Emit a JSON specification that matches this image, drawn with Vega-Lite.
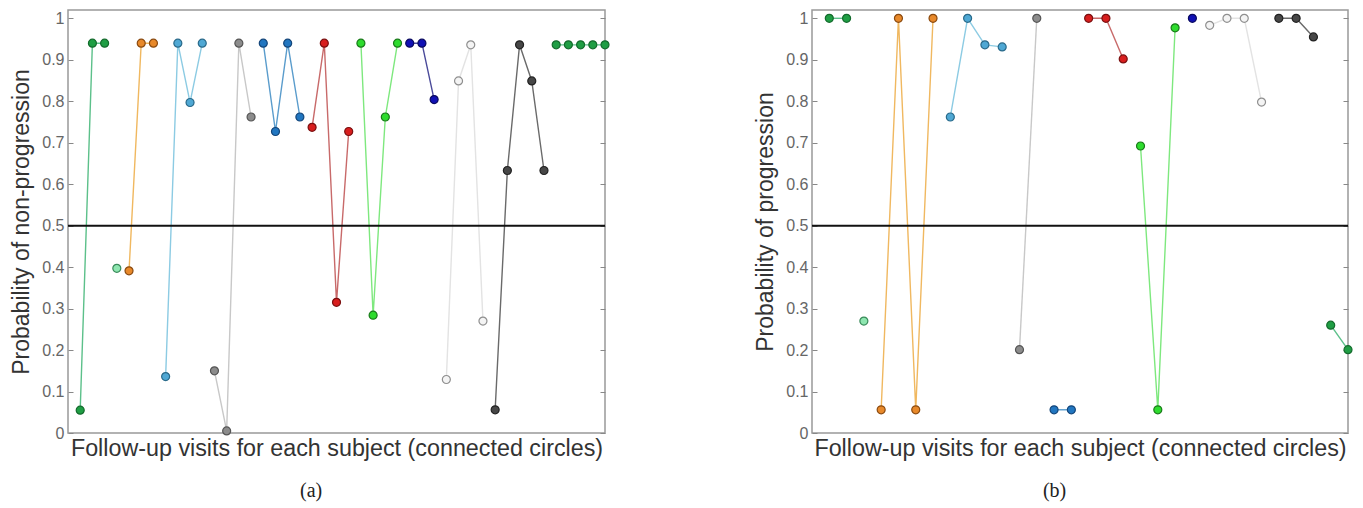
{
  "$schema": "https://vega.github.io/schema/vega-lite/v6.json",
  "padding": {"left": 10, "top": 9, "right": 5, "bottom": 0},
  "background": "white",
  "datasets": {
    "a": [
      {"subject": "S01", "visit": 1, "p": 0.055}, {"subject": "S01", "visit": 2, "p": 0.94}, {"subject": "S01", "visit": 3, "p": 0.94},
      {"subject": "S02", "visit": 4, "p": 0.397},
      {"subject": "S03", "visit": 5, "p": 0.391}, {"subject": "S03", "visit": 6, "p": 0.94}, {"subject": "S03", "visit": 7, "p": 0.94},
      {"subject": "S04", "visit": 8, "p": 0.136}, {"subject": "S04", "visit": 9, "p": 0.94}, {"subject": "S04", "visit": 10, "p": 0.797}, {"subject": "S04", "visit": 11, "p": 0.94},
      {"subject": "S05", "visit": 12, "p": 0.15}, {"subject": "S05", "visit": 13, "p": 0.005}, {"subject": "S05", "visit": 14, "p": 0.94}, {"subject": "S05", "visit": 15, "p": 0.762},
      {"subject": "S06", "visit": 16, "p": 0.94}, {"subject": "S06", "visit": 17, "p": 0.727}, {"subject": "S06", "visit": 18, "p": 0.94}, {"subject": "S06", "visit": 19, "p": 0.762},
      {"subject": "S07", "visit": 20, "p": 0.737}, {"subject": "S07", "visit": 21, "p": 0.94}, {"subject": "S07", "visit": 22, "p": 0.315}, {"subject": "S07", "visit": 23, "p": 0.727},
      {"subject": "S08", "visit": 24, "p": 0.94}, {"subject": "S08", "visit": 25, "p": 0.284}, {"subject": "S08", "visit": 26, "p": 0.762}, {"subject": "S08", "visit": 27, "p": 0.94},
      {"subject": "S09", "visit": 28, "p": 0.94}, {"subject": "S09", "visit": 29, "p": 0.94}, {"subject": "S09", "visit": 30, "p": 0.804},
      {"subject": "S10", "visit": 31, "p": 0.129}, {"subject": "S10", "visit": 32, "p": 0.849}, {"subject": "S10", "visit": 33, "p": 0.936}, {"subject": "S10", "visit": 34, "p": 0.27},
      {"subject": "S11", "visit": 35, "p": 0.056}, {"subject": "S11", "visit": 36, "p": 0.633}, {"subject": "S11", "visit": 37, "p": 0.936}, {"subject": "S11", "visit": 38, "p": 0.849}, {"subject": "S11", "visit": 39, "p": 0.633},
      {"subject": "S12", "visit": 40, "p": 0.936}, {"subject": "S12", "visit": 41, "p": 0.936}, {"subject": "S12", "visit": 42, "p": 0.936}, {"subject": "S12", "visit": 43, "p": 0.936}, {"subject": "S12", "visit": 44, "p": 0.936}
    ],
    "b": [
      {"subject": "S01", "visit": 1, "p": 1.0}, {"subject": "S01", "visit": 2, "p": 1.0},
      {"subject": "S02", "visit": 3, "p": 0.27},
      {"subject": "S03", "visit": 4, "p": 0.056}, {"subject": "S03", "visit": 5, "p": 1.0}, {"subject": "S03", "visit": 6, "p": 0.056}, {"subject": "S03", "visit": 7, "p": 1.0},
      {"subject": "S04", "visit": 8, "p": 0.762}, {"subject": "S04", "visit": 9, "p": 1.0}, {"subject": "S04", "visit": 10, "p": 0.936}, {"subject": "S04", "visit": 11, "p": 0.931},
      {"subject": "S05", "visit": 12, "p": 0.201}, {"subject": "S05", "visit": 13, "p": 1.0},
      {"subject": "S06", "visit": 14, "p": 0.056}, {"subject": "S06", "visit": 15, "p": 0.056},
      {"subject": "S07", "visit": 16, "p": 1.0}, {"subject": "S07", "visit": 17, "p": 1.0}, {"subject": "S07", "visit": 18, "p": 0.902},
      {"subject": "S08", "visit": 19, "p": 0.692}, {"subject": "S08", "visit": 20, "p": 0.056}, {"subject": "S08", "visit": 21, "p": 0.977},
      {"subject": "S09", "visit": 22, "p": 1.0},
      {"subject": "S10", "visit": 23, "p": 0.983}, {"subject": "S10", "visit": 24, "p": 1.0}, {"subject": "S10", "visit": 25, "p": 1.0}, {"subject": "S10", "visit": 26, "p": 0.798},
      {"subject": "S11", "visit": 27, "p": 1.0}, {"subject": "S11", "visit": 28, "p": 1.0}, {"subject": "S11", "visit": 29, "p": 0.955},
      {"subject": "S12", "visit": 30, "p": 0.26}, {"subject": "S12", "visit": 31, "p": 0.201}
    ],
    "thr": [{"p": 0.5}]
  },
  "spacing": 141,
  "hconcat": [
    {
      "width": 537,
      "height": 423,
      "title": {"text": "(a)", "orient": "bottom", "font": "Liberation Serif", "fontSize": 20, "fontWeight": "normal", "color": "#222", "frame": "bounds", "anchor": "middle", "offset": 22},
      "layer": [
        {
          "layer": [
            {
              "data": {"name": "a"},
              "mark": {"type": "line", "strokeWidth": 1.4},
              "encoding": {
                "x": {"field": "visit", "type": "quantitative", "scale": {"domain": [0, 44], "nice": false, "zero": false},
                      "axis": {"ticks": false, "labels": false, "domain": false, "grid": false, "title": "Follow-up visits for each subject (connected circles)", "titleFontSize": 23.3, "titleFontWeight": "normal", "titleColor": "#333", "titlePadding": 4}},
                "y": {"field": "p", "type": "quantitative", "scale": {"domain": [0, 1.02], "nice": false, "zero": false},
                      "axis": {"values": [0, 0.1, 0.2, 0.3, 0.4, 0.5, 0.6, 0.7, 0.8, 0.9, 1], "format": ".1~f", "tickSize": -5, "labelPadding": 9, "domain": false, "grid": false, "title": "Probability of non-progression", "titleFontSize": 23, "titleFontWeight": "normal", "titleColor": "#333", "labelFontSize": 16, "labelColor": "#666", "tickColor": "#888", "titlePadding": 8}},
                "color": {"field": "subject", "type": "nominal", "legend": null,
                          "scale": {"domain": ["S01","S02","S03","S04","S05","S06","S07","S08","S09","S10","S11","S12"],
                                    "range": ["#5cc08a","#9de8bc","#f0b860","#8ccbe3","#c8c8c8","#5a9ccc","#c86a6a","#7ee87e","#4a4a9a","#e3e3e3","#6a6a6a","#5cc08a"]}},
                "detail": {"field": "subject"},
                "order": {"field": "visit"}
              }
            },
            {
              "data": {"name": "thr"},
              "mark": {"type": "rule", "color": "#111", "strokeWidth": 2},
              "encoding": {"y": {"field": "p", "type": "quantitative"}}
            },
            {
              "data": {"name": "a"},
              "mark": {"type": "circle", "size": 64, "strokeWidth": 1.2, "opacity": 1},
              "encoding": {
                "x": {"field": "visit", "type": "quantitative"},
                "y": {"field": "p", "type": "quantitative"},
                "fill": {"field": "subject", "type": "nominal", "legend": null,
                         "scale": {"domain": ["S01","S02","S03","S04","S05","S06","S07","S08","S09","S10","S11","S12"],
                                   "range": ["#1f9e44","#8ee6b0","#e8892a","#4fa8d4","#8c8c8c","#2176c0","#d81e1e","#2edc2e","#1010b4","#f4f4f4","#474747","#1f9e44"]}},
                "stroke": {"field": "subject", "type": "nominal", "legend": null,
                           "scale": {"domain": ["S01","S02","S03","S04","S05","S06","S07","S08","S09","S10","S11","S12"],
                                     "range": ["#146b2d","#3a8a5a","#8a4a10","#2a6a8a","#555555","#14467a","#7a1010","#1a7a1a","#0a0a60","#8f8f8f","#222222","#146b2d"]}}
              }
            }
          ]
        },
        {
          "data": {"name": "thr"},
          "mark": {"type": "point", "opacity": 0},
          "encoding": {
            "y": {"field": "p", "type": "quantitative", "scale": {"domain": [0, 1.02], "nice": false, "zero": false},
                  "axis": {"orient": "right", "values": [0, 0.1, 0.2, 0.3, 0.4, 0.5, 0.6, 0.7, 0.8, 0.9, 1], "labels": false, "tickSize": -5, "domain": false, "grid": false, "title": null, "tickColor": "#888"}}
          }
        }
      ],
      "resolve": {"scale": {"y": "independent"}}
    },
    {
      "width": 536,
      "height": 423,
      "title": {"text": "(b)", "orient": "bottom", "font": "Liberation Serif", "fontSize": 20, "fontWeight": "normal", "color": "#222", "frame": "bounds", "anchor": "middle", "offset": 22},
      "layer": [
        {
          "layer": [
            {
              "data": {"name": "b"},
              "mark": {"type": "line", "strokeWidth": 1.4},
              "encoding": {
                "x": {"field": "visit", "type": "quantitative", "scale": {"domain": [0, 31], "nice": false, "zero": false},
                      "axis": {"ticks": false, "labels": false, "domain": false, "grid": false, "title": "Follow-up visits for each subject (connected circles)", "titleFontSize": 23.3, "titleFontWeight": "normal", "titleColor": "#333", "titlePadding": 4}},
                "y": {"field": "p", "type": "quantitative", "scale": {"domain": [0, 1.02], "nice": false, "zero": false},
                      "axis": {"values": [0, 0.1, 0.2, 0.3, 0.4, 0.5, 0.6, 0.7, 0.8, 0.9, 1], "format": ".1~f", "tickSize": -5, "labelPadding": 9, "domain": false, "grid": false, "title": "Probability of progression", "titleFontSize": 23, "titleFontWeight": "normal", "titleColor": "#333", "labelFontSize": 16, "labelColor": "#666", "tickColor": "#888", "titlePadding": 8}},
                "color": {"field": "subject", "type": "nominal", "legend": null,
                          "scale": {"domain": ["S01","S02","S03","S04","S05","S06","S07","S08","S09","S10","S11","S12"],
                                    "range": ["#5cc08a","#9de8bc","#f0b860","#8ccbe3","#c8c8c8","#5a9ccc","#c86a6a","#7ee87e","#4a4a9a","#e3e3e3","#6a6a6a","#5cc08a"]}},
                "detail": {"field": "subject"},
                "order": {"field": "visit"}
              }
            },
            {
              "data": {"name": "thr"},
              "mark": {"type": "rule", "color": "#111", "strokeWidth": 2},
              "encoding": {"y": {"field": "p", "type": "quantitative"}}
            },
            {
              "data": {"name": "b"},
              "mark": {"type": "circle", "size": 64, "strokeWidth": 1.2, "opacity": 1},
              "encoding": {
                "x": {"field": "visit", "type": "quantitative"},
                "y": {"field": "p", "type": "quantitative"},
                "fill": {"field": "subject", "type": "nominal", "legend": null,
                         "scale": {"domain": ["S01","S02","S03","S04","S05","S06","S07","S08","S09","S10","S11","S12"],
                                   "range": ["#1f9e44","#8ee6b0","#e8892a","#4fa8d4","#8c8c8c","#2176c0","#d81e1e","#2edc2e","#1010b4","#f4f4f4","#474747","#1f9e44"]}},
                "stroke": {"field": "subject", "type": "nominal", "legend": null,
                           "scale": {"domain": ["S01","S02","S03","S04","S05","S06","S07","S08","S09","S10","S11","S12"],
                                     "range": ["#146b2d","#3a8a5a","#8a4a10","#2a6a8a","#555555","#14467a","#7a1010","#1a7a1a","#0a0a60","#8f8f8f","#222222","#146b2d"]}}
              }
            }
          ]
        },
        {
          "data": {"name": "thr"},
          "mark": {"type": "point", "opacity": 0},
          "encoding": {
            "y": {"field": "p", "type": "quantitative", "scale": {"domain": [0, 1.02], "nice": false, "zero": false},
                  "axis": {"orient": "right", "values": [0, 0.1, 0.2, 0.3, 0.4, 0.5, 0.6, 0.7, 0.8, 0.9, 1], "labels": false, "tickSize": -5, "domain": false, "grid": false, "title": null, "tickColor": "#888"}}
          }
        }
      ],
      "resolve": {"scale": {"y": "independent"}}
    }
  ],
  "config": {
    "font": "Liberation Sans",
    "view": {"stroke": "#999", "strokeWidth": 1.5},
    "axis": {"labelFont": "Liberation Sans", "titleFont": "Liberation Sans"}
  }
}
